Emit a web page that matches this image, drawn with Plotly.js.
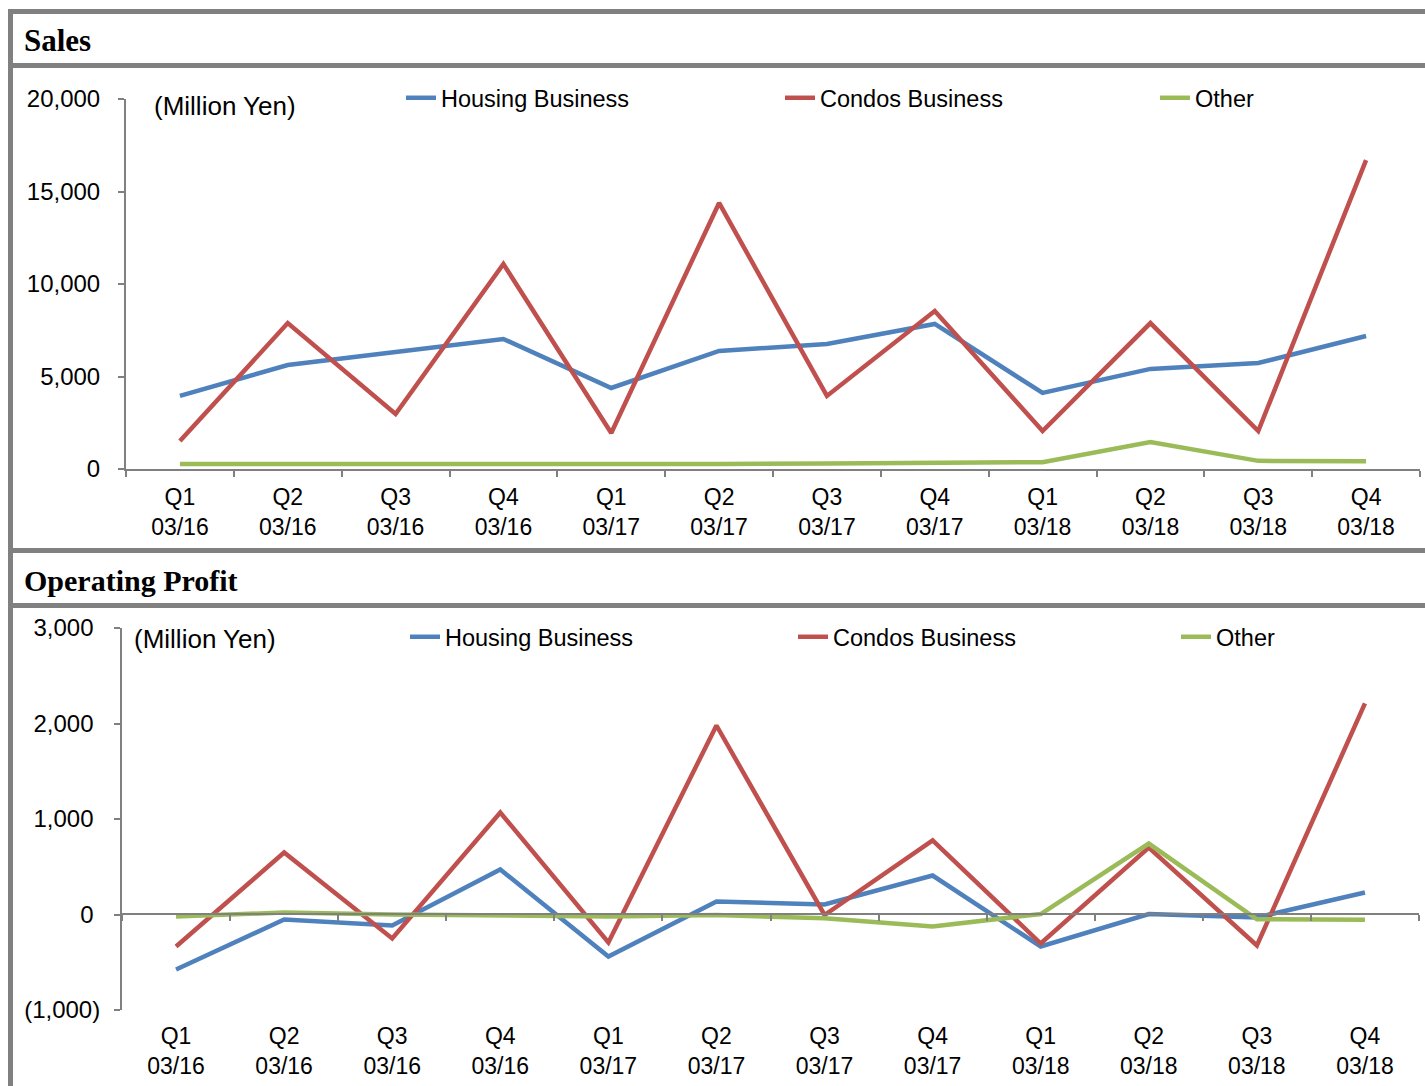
<!DOCTYPE html>
<html>
<head>
<meta charset="utf-8">
<script src="https://cdn.plot.ly/plotly-3.0.1.min.js"></script>
<style>
html,body{margin:0;padding:0;background:#fff;}
#chart{width:1425px;height:1086px;}
</style>
</head>
<body>
<div id="chart"></div>
<script>
// ---- data ----
const quarters = ['Q1<br>03/16','Q2<br>03/16','Q3<br>03/16','Q4<br>03/16',
                  'Q1<br>03/17','Q2<br>03/17','Q3<br>03/17','Q4<br>03/17',
                  'Q1<br>03/18','Q2<br>03/18','Q3<br>03/18','Q4<br>03/18'];
const seriesNames = ['Housing Business','Condos Business','Other'];

const salesHousing = [3950, 5620, 6320, 7030, 4380, 6380, 6760, 7840, 4110, 5410, 5730, 7190];
const salesCondos  = [1510, 7890, 2970, 11080, 1950, 14380, 3950, 8540, 2050, 7890, 2050, 16700];
const salesOther   = [270, 260, 260, 260, 260, 270, 300, 340, 370, 1460, 440, 420];

const opHousing = [-576, -52, -115, 471, -440, 136, 105, 408, -335, 5, -30, 230];
const opCondos  = [-335, 650, -251, 1068, -293, 1979, -5, 775, -304, 702, -325, 2210];
const opOther   = [-20, 20, 0, -10, -20, -5, -40, -125, 5, 743, -50, -55];

const salesTickVals = [0, 5000, 10000, 15000, 20000];
const salesTickText = ['0', '5,000', '10,000', '15,000', '20,000'];
const opTickVals = [-1000, 0, 1000, 2000, 3000];
const opTickText = ['(1,000)', '0&nbsp;', '1,000&nbsp;', '2,000&nbsp;', '3,000&nbsp;'];

const colors = ['#4F81BD', '#C0504D', '#9BBB59'];

// ---- helpers (pixel -> paper) ----
const W = 1425, H = 1086;
const px = v => v / W;
const py = v => 1 - v / H;

const font = 'Liberation Sans, Arial, sans-serif';
const grey = '#808080';

function line(x, y, name, i, xa, ya, leg) {
  return {x: x, y: y, name: name, type: 'scatter', mode: 'lines',
          xaxis: xa, yaxis: ya, legend: leg,
          line: {color: colors[i], width: 4.5}, hoverinfo: 'skip'};
}

const data = [
  line(quarters, salesHousing, seriesNames[0], 0, 'x', 'y', 'legend'),
  line(quarters, salesCondos, seriesNames[1], 1, 'x', 'y', 'legend2'),
  line(quarters, salesOther, seriesNames[2], 2, 'x', 'y', 'legend3'),
  line(quarters, opHousing, seriesNames[0], 0, 'x2', 'y2', 'legend4'),
  line(quarters, opCondos, seriesNames[1], 1, 'x2', 'y2', 'legend5'),
  line(quarters, opOther, seriesNames[2], 2, 'x3', 'y2', 'legend6')
];

const xTickFont = {family: font, size: 23, color: '#000'};
const yTickFont = {family: font, size: 24, color: '#000'};

function leg(xpix, ypix) {
  return {
    orientation: 'h', xanchor: 'left', yanchor: 'middle',
    x: px(xpix), y: py(ypix),
    font: {family: font, size: 23.5, color: '#000'},
    bgcolor: 'rgba(0,0,0,0)', borderwidth: 0, itemwidth: 30
  };
}

const layout = {
  width: W, height: H,
  margin: {l: 0, r: 0, t: 0, b: 0},
  paper_bgcolor: '#fff', plot_bgcolor: '#fff',
  showlegend: true,
  legend: leg(401, 98),
  legend2: leg(780, 98),
  legend3: leg(1155, 98),
  legend4: leg(405, 637),
  legend5: leg(793, 637),
  legend6: leg(1176, 637),
  xaxis: {
    domain: [px(126), px(1420)], anchor: 'y',
    type: 'category', range: [-0.5, 11.5],
    showline: true, linecolor: grey, linewidth: 2,
    ticks: 'outside', tickson: 'boundaries', ticklen: 6, tickcolor: grey, tickwidth: 2,
    showgrid: false, zeroline: false,
    tickfont: xTickFont, ticklabelstandoff: 6, fixedrange: true
  },
  yaxis: {
    domain: [py(469), py(99)], anchor: 'x',
    range: [0, 20000],
    tickvals: salesTickVals, ticktext: salesTickText,
    showline: true, linecolor: grey, linewidth: 2,
    ticks: 'outside', ticklen: 6, tickcolor: grey, tickwidth: 2,
    showgrid: false, zeroline: false,
    tickfont: yTickFont, ticklabelstandoff: 13, fixedrange: true
  },
  xaxis2: {
    domain: [px(122), px(1419)], anchor: 'y2',
    type: 'category', range: [-0.5, 11.5],
    showline: false, ticks: '', showgrid: false, zeroline: false,
    tickfont: xTickFont, ticklabelstandoff: 10, fixedrange: true
  },
  xaxis3: {
    overlaying: 'x2', anchor: 'free', position: py(914),
    type: 'category', range: [-0.5, 11.5],
    showline: true, linecolor: grey, linewidth: 2,
    ticks: 'outside', tickson: 'boundaries', ticklen: 6, tickcolor: grey, tickwidth: 2,
    showticklabels: false, showgrid: false, zeroline: false, fixedrange: true
  },
  yaxis2: {
    domain: [py(1010), py(628)], anchor: 'x2',
    range: [-1000, 3000],
    tickvals: opTickVals, ticktext: opTickText,
    showline: true, linecolor: grey, linewidth: 2,
    ticks: 'outside', ticklen: 6, tickcolor: grey, tickwidth: 2,
    showgrid: false, zeroline: false,
    tickfont: yTickFont, ticklabelstandoff: 9, fixedrange: true
  },
  annotations: [
    {text: '<b>Sales</b>', xref: 'paper', yref: 'paper', x: px(22), y: py(40),
     xanchor: 'left', yanchor: 'middle', showarrow: false,
     font: {family: 'Liberation Serif, Times New Roman, serif', size: 31, color: '#000'}},
    {text: '<b>Operating Profit</b>', xref: 'paper', yref: 'paper', x: px(22), y: py(580),
     xanchor: 'left', yanchor: 'middle', showarrow: false,
     font: {family: 'Liberation Serif, Times New Roman, serif', size: 30, color: '#000'}},
    {text: '(Million Yen)', xref: 'paper', yref: 'paper', x: px(152), y: py(106),
     xanchor: 'left', yanchor: 'middle', showarrow: false,
     font: {family: font, size: 26, color: '#000'}},
    {text: '(Million Yen)', xref: 'paper', yref: 'paper', x: px(132), y: py(639),
     xanchor: 'left', yanchor: 'middle', showarrow: false,
     font: {family: font, size: 26, color: '#000'}}
  ],
  shapes: [
    // frame (decorative panel borders)
    {type: 'rect', xref: 'paper', yref: 'paper', x0: px(8), x1: 1, y0: py(14), y1: py(9), fillcolor: grey, line: {width: 0}, layer: 'above'},
    {type: 'rect', xref: 'paper', yref: 'paper', x0: px(8), x1: px(13), y0: 0, y1: py(9), fillcolor: grey, line: {width: 0}, layer: 'above'},
    {type: 'rect', xref: 'paper', yref: 'paper', x0: px(8), x1: 1, y0: py(68), y1: py(63), fillcolor: grey, line: {width: 0}, layer: 'above'},
    {type: 'rect', xref: 'paper', yref: 'paper', x0: px(8), x1: 1, y0: py(553), y1: py(548), fillcolor: grey, line: {width: 0}, layer: 'above'},
    {type: 'rect', xref: 'paper', yref: 'paper', x0: px(8), x1: 1, y0: py(608), y1: py(603), fillcolor: grey, line: {width: 0}, layer: 'above'}
  ]
};

Plotly.newPlot('chart', data, layout, {displayModeBar: false, staticPlot: true});
</script>
</body>
</html>
